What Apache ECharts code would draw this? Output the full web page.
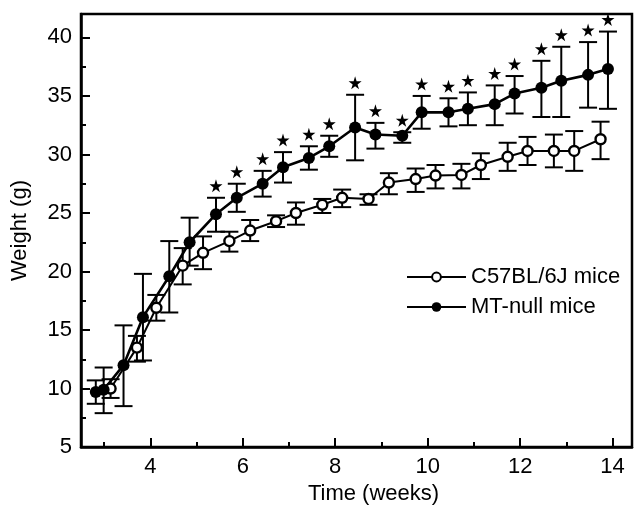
<!DOCTYPE html>
<html>
<head>
  <meta charset="utf-8" />
  <title>Weight vs time</title>
  <script src="https://cdn.jsdelivr.net/npm/echarts@6/dist/echarts.min.js"></script>
  <style>
    html, body { margin: 0; padding: 0; background: #fff; }
    #chart { width: 635px; height: 510px; }
  </style>
</head>
<body>
  <div id="chart"></div>
  <script>
    // C57BL/6J (open circles)
    const c57Weeks = [3.14, 3.71, 4.13, 4.70, 5.14, 5.71, 6.16, 6.72, 7.15, 7.72, 8.15, 8.72, 9.16, 9.74, 10.17, 10.73, 11.15, 11.73, 12.16, 12.73, 13.17, 13.74]
    const c57Mean = [10.0, 13.5, 16.9, 20.5, 21.6, 22.6, 23.5, 24.3, 25.0, 25.7, 26.3, 26.2, 27.6, 27.9, 28.2, 28.25, 29.1, 29.8, 30.3, 30.3, 30.3, 31.3]
    const c57Low = [9.2, 12.3, 15.8, 18.9, 20.2, 21.7, 22.6, 23.8, 24.0, 25.0, 25.5, 25.7, 26.6, 26.8, 27.1, 27.1, 27.9, 28.6, 29.1, 28.9, 28.6, 29.6]
    const c57High = [10.8, 14.5, 18.0, 22.0, 23.0, 23.4, 24.4, 24.8, 25.9, 26.2, 27.0, 26.6, 28.4, 28.8, 29.1, 29.2, 30.1, 31.0, 31.5, 31.7, 32.0, 32.8]

    // MT-null (filled circles)
    const mtWeeks = [2.82, 2.99, 3.42, 3.84, 4.41, 4.85, 5.42, 5.87, 6.43, 6.87, 7.43, 7.87, 8.43, 8.87, 9.45, 9.87, 10.45, 10.87, 11.45, 11.88, 12.46, 12.89, 13.47, 13.90]
    const mtMean = [9.7, 9.9, 12.0, 16.1, 19.6, 22.5, 24.9, 26.3, 27.5, 28.9, 29.7, 30.7, 32.3, 31.7, 31.6, 33.6, 33.6, 33.9, 34.3, 35.2, 35.7, 36.3, 36.8, 37.3]
    const mtLow = [8.7, 7.9, 8.5, 12.4, 16.5, 20.5, 23.4, 25.1, 26.4, 27.6, 28.7, 29.8, 29.5, 30.5, 31.0, 32.2, 32.4, 32.5, 32.5, 33.5, 33.2, 33.2, 34.0, 33.9]
    const mtHigh = [10.7, 11.8, 15.4, 19.8, 22.6, 24.6, 26.3, 27.5, 28.6, 30.2, 30.7, 31.6, 35.1, 32.7, 31.9, 35.0, 34.8, 35.3, 35.9, 36.7, 38.0, 39.2, 39.6, 40.5]
    // significance stars (1 = star above the upper bar)
    const mtSig = [0, 0, 0, 0, 0, 0, 1, 1, 1, 1, 1, 1, 1, 1, 1, 1, 1, 1, 1, 1, 1, 1, 1, 1]

    // tick values
    const xMajor = [4, 6, 8, 10, 12, 14]
    const xMinor = [3, 5, 7, 9, 11, 13]
    const yMajor = [5, 10, 15, 20, 25, 30, 35, 40]
    const yMinor = [7.5, 12.5, 17.5, 22.5, 27.5, 32.5, 37.5]

    const FONT = "Liberation Sans"
    const STAR = "path://M50,0 L61,35 L98,35 L68,57 L79,91 L50,70 L21,91 L32,57 L2,35 L39,35 Z"

    function errData(weeks, low, high) {
      return weeks.map((w, i) => [w, low[i], high[i]])
    }

    // error bar: vertical line + two caps
    function renderErr(params, api) {
      const x = api.value(0)
      const top = api.coord([x, api.value(2)])
      const bot = api.coord([x, api.value(1)])
      const hw = 9
      const style = { stroke: "#000", lineWidth: 2 }
      return {
        type: "group",
        children: [
          { type: "line", shape: { x1: top[0], y1: top[1], x2: bot[0], y2: bot[1] }, style: style },
          { type: "line", shape: { x1: top[0] - hw, y1: top[1], x2: top[0] + hw, y2: top[1] }, style: style },
          { type: "line", shape: { x1: bot[0] - hw, y1: bot[1], x2: bot[0] + hw, y2: bot[1] }, style: style }
        ]
      }
    }

    const chart = echarts.init(document.getElementById("chart"), null, { renderer: "canvas" })

    const axisLabelStyle = { color: "#000", fontFamily: FONT, fontSize: 22 }

    chart.setOption({
      animation: false,
      backgroundColor: "#fff",
      grid: {
        left: 81, right: 3, top: 14, bottom: 52,
        show: true, borderColor: "#000", borderWidth: 2.5
      },
      legend: [
        {
          data: ["C57BL/6J mice"],
          left: 401, top: 261, orient: "vertical",
          itemWidth: 59, itemHeight: 11,
          textStyle: { color: "#000", fontFamily: FONT, fontSize: 22 }
        },
        {
          data: ["MT-null mice"],
          left: 401, top: 291, orient: "vertical",
          itemWidth: 59, itemHeight: 12,
          textStyle: { color: "#000", fontFamily: FONT, fontSize: 22 }
        }
      ],
      xAxis: [
        {
          type: "value", min: 2.5, max: 14.42,
          name: "Time (weeks)", nameLocation: "middle", nameGap: 29,
          nameTextStyle: { color: "#000", fontFamily: FONT, fontSize: 22, padding: [0, 0, 0, 34] },
          axisLine: { onZero: false, lineStyle: { color: "#000", width: 2.5 } },
          axisTick: { inside: true, length: 9, customValues: xMajor, lineStyle: { color: "#000", width: 2 } },
          axisLabel: Object.assign({ margin: 9, customValues: xMajor }, axisLabelStyle),
          splitLine: { show: false }
        },
        {
          type: "value", min: 2.5, max: 14.42, position: "bottom",
          axisLine: { show: false },
          axisTick: { inside: true, length: 5, customValues: xMinor, lineStyle: { color: "#000", width: 2 } },
          axisLabel: { show: false },
          splitLine: { show: false }
        }
      ],
      yAxis: [
        {
          type: "value", min: 5, max: 42,
          name: "Weight (g)", nameLocation: "middle", nameGap: 50,
          nameTextStyle: { color: "#000", fontFamily: FONT, fontSize: 22 },
          axisLine: { onZero: false, lineStyle: { color: "#000", width: 2.5 } },
          axisTick: { inside: true, length: 9, customValues: yMajor, lineStyle: { color: "#000", width: 2 } },
          axisLabel: Object.assign({ margin: 9, customValues: yMajor }, axisLabelStyle),
          splitLine: { show: false }
        },
        {
          type: "value", min: 5, max: 42, position: "left",
          axisLine: { show: false },
          axisTick: { inside: true, length: 5, customValues: yMinor, lineStyle: { color: "#000", width: 2 } },
          axisLabel: { show: false },
          splitLine: { show: false }
        }
      ],
      series: [
        {
          type: "custom", name: "c57err", renderItem: renderErr,
          data: errData(c57Weeks, c57Low, c57High), z: 1, silent: true
        },
        {
          type: "custom", name: "mterr", renderItem: renderErr,
          data: errData(mtWeeks, mtLow, mtHigh), z: 1, silent: true
        },
        {
          type: "line", name: "C57BL/6J mice",
          data: c57Weeks.map((w, i) => [w, c57Mean[i]]),
          symbol: "circle", symbolSize: 10,
          lineStyle: { color: "#000", width: 2 },
          itemStyle: { color: "#fff", borderColor: "#000", borderWidth: 2.4 },
          z: 3
        },
        {
          type: "line", name: "MT-null mice",
          data: mtWeeks.map((w, i) => [w, mtMean[i]]),
          symbol: "circle", symbolSize: 12,
          lineStyle: { color: "#000", width: 2.6 },
          itemStyle: { color: "#000", borderColor: "#000", borderWidth: 0 },
          z: 3
        },
        {
          type: "scatter", name: "sig",
          data: mtWeeks.map((w, i) => [w, mtHigh[i]]).filter((d, i) => mtSig[i]),
          symbol: STAR, symbolSize: 13, symbolOffset: [0, -12],
          itemStyle: { color: "#000", opacity: 1 }, z: 4, silent: true
        }
      ]
    })
  </script>
</body>
</html>
